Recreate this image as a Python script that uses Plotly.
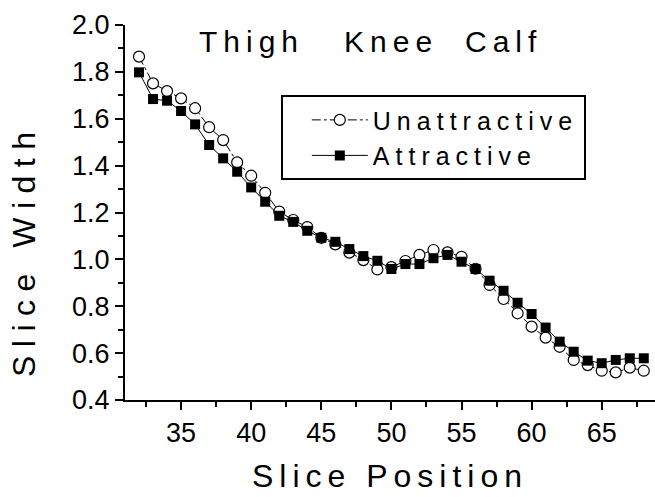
import plotly.graph_objects as go

# slice positions along the leg
positions = list(range(32, 69))

# mean slice widths
unattractive = [1.865, 1.751, 1.718, 1.687, 1.645, 1.564, 1.509, 1.414, 1.357, 1.284,
                1.204, 1.168, 1.138, 1.092, 1.064, 1.029, 0.997, 0.957, 0.967, 0.993,
                1.019, 1.040, 1.030, 1.011, 0.960, 0.891, 0.831, 0.770, 0.713, 0.666,
                0.627, 0.571, 0.549, 0.525, 0.518, 0.538, 0.525]
attractive = [1.798, 1.684, 1.677, 1.633, 1.576, 1.488, 1.431, 1.374, 1.307, 1.246,
              1.186, 1.160, 1.122, 1.092, 1.075, 1.044, 1.014, 0.994, 0.959, 0.980,
              0.980, 1.005, 1.019, 0.990, 0.959, 0.909, 0.866, 0.815, 0.767, 0.709,
              0.649, 0.606, 0.568, 0.557, 0.571, 0.578, 0.578]

# region labels and where they sit on the x axis
regions = ["Thigh", "Knee", "Calf"]
region_x = [40, 50, 58]

FONT = "Arial, Liberation Sans, sans-serif"

fig = go.Figure()
fig.add_trace(go.Scatter(
    x=positions, y=unattractive, name="Unattractive", mode="lines+markers",
    line=dict(color="black", width=1, dash="dashdot"),
    marker=dict(symbol="circle", size=11, color="white",
                line=dict(color="black", width=1.2)),
))
fig.add_trace(go.Scatter(
    x=positions, y=attractive, name="Attractive", mode="lines+markers",
    line=dict(color="black", width=1),
    marker=dict(symbol="square", size=10, color="black"),
))

for name, xv in zip(regions, region_x):
    fig.add_annotation(x=xv, y=1.93, xref="x", yref="y", text=name, showarrow=False,
                       xanchor="center", yanchor="middle",
                       font=dict(family=FONT, size=30, color="black"))

# y title drawn as an annotation so it can sit lower than the axis centre
fig.add_annotation(x=-0.19, y=0.40, xref="paper", yref="paper", text="Slice Width",
                   showarrow=False, textangle=-90, xanchor="center", yanchor="middle",
                   font=dict(family=FONT, size=32, color="black"))

axis_common = dict(
    showline=True, linecolor="black", linewidth=2, mirror=False,
    showgrid=False, zeroline=False,
    ticks="outside", ticklen=8, tickwidth=2, tickcolor="black",
    tickfont=dict(family=FONT, size=27, color="black"),
)

fig.update_xaxes(
    range=[31, 68.8], tick0=35, dtick=5,
    minor=dict(ticks="outside", ticklen=5, tickwidth=2, tickcolor="black", dtick=2.5, tick0=32.5),
    title=dict(text="Slice Position", font=dict(family=FONT, size=32, color="black"), standoff=17),
    **axis_common,
)
fig.update_yaxes(
    range=[0.4, 2.0], tick0=0.4, dtick=0.2, tickformat=".1f",
    minor=dict(ticks="outside", ticklen=5, tickwidth=2, tickcolor="black", dtick=0.1),
    **axis_common,
)

fig.update_layout(
    width=655, height=497,
    margin=dict(l=125, r=0, t=25, b=97),
    paper_bgcolor="white", plot_bgcolor="white",
    font=dict(family=FONT, color="black"),
    legend=dict(x=0.294, y=0.813, xanchor="left", yanchor="top",
                bgcolor="white", bordercolor="black", borderwidth=2,
                font=dict(family=FONT, size=25, color="black"),
                indentation=24, itemwidth=56),
)

# widen the letter spacing like the original and grow the legend box to fit
post = """
var gd = document.getElementById('{plot_id}');
var texts = gd.querySelectorAll('.legendtext');
var before = 0;
texts.forEach(function(t){ before = Math.max(before, t.getBBox().width); });
var st = document.createElement('style');
st.textContent = 'body{margin:0;}' +
                 ' .xtitle, .annotation-text {letter-spacing:6px;}' +
                 ' .annotation[data-index="3"] .annotation-text {letter-spacing:8.5px;}' +
                 ' .legendtext {letter-spacing:6px;}';
document.head.appendChild(st);
var after = 0;
texts.forEach(function(t){ after = Math.max(after, t.getBBox().width); });
var delta = after - before;
var bg = gd.querySelector('.legend rect.bg');
if (bg) bg.setAttribute('width', parseFloat(bg.getAttribute('width')) + delta);
document.querySelectorAll('clipPath[id^="legend"] rect').forEach(function(r){
    r.setAttribute('width', parseFloat(r.getAttribute('width')) + delta);
});
"""

fig.write_html("out.html", post_script=post, config={"displayModeBar": False})
